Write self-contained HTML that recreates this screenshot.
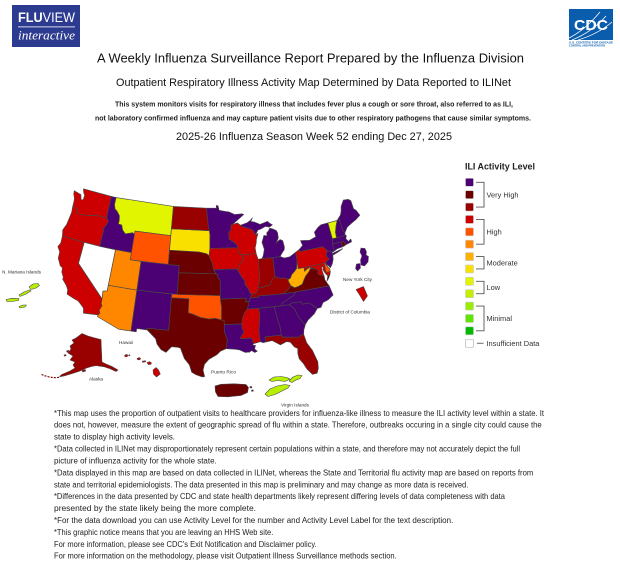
<!DOCTYPE html>
<html><head><meta charset="utf-8"><title>ILI Activity Map</title>
<style>
html,body{margin:0;padding:0;background:#fff;width:620px;height:565px;overflow:hidden;}
svg{display:block;font-family:"Liberation Sans",Arial,sans-serif;}
</style></head><body>
<svg id="s" width="620" height="565" viewBox="0 0 620 565" xmlns="http://www.w3.org/2000/svg">
<rect width="620" height="565" fill="#fff"/>

<!-- FLUVIEW logo -->
<rect x="12" y="5" width="68" height="42" fill="#2c3b8f"/>
<text x="18" y="22" font-size="14" fill="#fff" textLength="57" lengthAdjust="spacingAndGlyphs"><tspan font-weight="bold">FLU</tspan>VIEW</text>
<rect x="18" y="26.5" width="57" height="0.8" fill="#fff"/>
<text x="18" y="39.5" font-size="12.5" font-style="italic" fill="#fff" font-family="Liberation Serif, serif" textLength="57" lengthAdjust="spacingAndGlyphs">interactive</text>

<!-- CDC logo -->
<rect x="569" y="9" width="44" height="31" fill="#0a5cad"/>
<path d="M569 38 Q585 30 600 12" stroke="#fff" stroke-width="0.8" fill="none"/>
<path d="M572 40 Q592 32 606 16" stroke="#fff" stroke-width="0.8" fill="none"/>
<path d="M578 40 Q598 34 612 22" stroke="#fff" stroke-width="0.8" fill="none"/>
<text x="591" y="30" font-size="15" font-weight="bold" fill="#fff" text-anchor="middle" textLength="34" lengthAdjust="spacingAndGlyphs">CDC</text>
<text x="569" y="43.5" font-size="2.6" font-weight="bold" fill="#0a5cad" textLength="44" lengthAdjust="spacingAndGlyphs">U.S. CENTERS FOR DISEASE</text>
<text x="569" y="46.5" font-size="2.6" font-weight="bold" fill="#0a5cad" textLength="36" lengthAdjust="spacingAndGlyphs">CONTROL AND PREVENTION</text>

<!-- Header text -->
<text x="97" y="62.5" font-size="13" fill="#111" textLength="427" lengthAdjust="spacingAndGlyphs">A Weekly Influenza Surveillance Report Prepared by the Influenza Division</text>
<text x="116" y="85.8" font-size="10.7" fill="#111" textLength="395" lengthAdjust="spacingAndGlyphs">Outpatient Respiratory Illness Activity Map Determined by Data Reported to ILINet</text>
<text x="115" y="106.5" font-size="7" font-weight="bold" fill="#222" textLength="398" lengthAdjust="spacingAndGlyphs">This system monitors visits for respiratory illness that includes fever plus a cough or sore throat, also referred to as ILI,</text>
<text x="95" y="120.5" font-size="7" font-weight="bold" fill="#222" textLength="436" lengthAdjust="spacingAndGlyphs">not laboratory confirmed influenza and may capture patient visits due to other respiratory pathogens that cause similar symptoms.</text>
<text x="176" y="139.8" font-size="10.9" fill="#111" textLength="276" lengthAdjust="spacingAndGlyphs">2025-26 Influenza Season Week 52 ending Dec 27, 2025</text>

<!-- Main map (filled by script) -->
<g id="map" stroke="#474747" stroke-width="0.65" stroke-linejoin="round"></g>

<!-- Insets -->
<g stroke="#474747" stroke-width="0.55" stroke-linejoin="round">
  <!-- Alaska -->
  <path fill="#990000" d="M76 338 L82 333.5 L88 336 L95 338 L101 339.5 L102 362 L106 364 L112 366.5 L118 370 L116 371.5 L110 368.8 L104 366.7 L100 366.2 L96 365.6 L91 366.6 L86 368.2 L80 371 L72 373.6 L64 376 L59.5 376.8 L61.5 374.6 L70 371 L75 368 L73 365 L75 362 L70 360 L73 356 L68 353 L71 349 L70 346 L74 343 L72 340 Z"/>
  <path fill="none" stroke="#7a0000" stroke-width="1.1" stroke-dasharray="2 1.2" d="M41.5 374.5 L45 375.8 L48.5 376.8 L52 377.4 L55.5 377.7 L59 377.3"/>
  <path fill="#990000" d="M66.5 351 l2 -0.8 l0.6 1.5 l-2 0.6 Z M64 355 l1.8 -0.5 l0.3 1.2 l-1.8 0.4 Z M82 370.5 l3 -1 l0.8 1.5 l-3 1 Z"/>
  <!-- Hawaii -->
  <g fill="#cc0000">
    <path d="M124.5 355.5 l1.8 -1.2 l1.6 0.8 l-0.8 1.6 l-2 0.2 Z"/>
    <path d="M128.5 355.2 l1 -0.6 l0.6 0.9 l-1 0.5 Z"/>
    <path d="M137 358.5 l2 -1 l1.8 1 l-1.2 1.4 l-2 -0.2 Z"/>
    <path d="M142.3 361.2 l3.2 -0.5 l0.2 1.1 l-3.2 0.6 Z"/>
    <path d="M147 362.6 l2.5 -1 l2 1.2 l-0.6 1.6 l-2.6 0.2 Z"/>
    <path d="M153 370 L156 367.5 L158.5 370 L160.3 374 L156.5 377 L153.5 374.2 Z"/>
  </g>
  <!-- Puerto Rico -->
  <path fill="#6b0000" d="M215 386 L221 384.3 L234 383.8 L246 384.5 L248.5 387.5 L247.5 392.5 L241 395.5 L228 396.8 L218 396.5 L215.5 392 Z"/>
  <path fill="#6b0000" d="M250 386.5 l1.8 0 l0 1.3 l-1.8 0 Z M251.5 390 l1.8 0 l0 1.2 l-1.8 0 Z"/>
  <!-- Virgin Islands -->
  <g fill="#b6f000">
    <path d="M269 380 L274 377 L281 376.5 L287 377.5 L290 379 L285 381.5 L278 380.5 L272 381.5 Z"/>
    <path d="M289 381 L293 377 L298 375 L302 375.5 L300 378.5 L296 380 L292 382.5 Z"/>
    <path d="M265 394 L270 389 L277 386 L285 384.5 L290 385.5 L288 388 L282 391 L275 394.5 L268 396.5 Z"/>
  </g>
  <!-- N. Mariana Islands -->
  <g fill="#b6f000">
    <path d="M29 287 L33 284 L38 283.5 L39.5 285.5 L36 288 L31 289.5 Z"/>
    <path d="M19 295 L24 292 L30 289.8 L31 291 L26 294 L20 296.5 Z"/>
    <path d="M6 299.5 L12 298.3 L19 298.5 L18.5 300.5 L12 301.5 L7 301.5 Z"/>
    <path d="M19 306.5 L23 305 L26.5 305 L25 307 L20 308 Z"/>
  </g>
  <!-- New York City -->
  <path fill="#4b0073" d="M361 248 L365 248.5 L366.5 252 L366 255 L368.5 256.5 L368 262 L364.5 266 L361 265 L360.5 260 L362 256 L360 252 Z"/>
  <path fill="#4b0073" d="M356.5 264 L360 263.5 L360.5 268 L357.5 271 L355.5 268.5 Z"/>
  <!-- District of Columbia -->
  <path fill="#cc0000" d="M356 289.5 L363.5 286.5 L367.5 296 L363.5 301.5 L359 294 Z"/>
</g>

<!-- Map labels -->
<g font-size="4.8" fill="#333">
  <text x="2" y="273.7" textLength="39" lengthAdjust="spacingAndGlyphs">N. Mariana Islands</text>
  <text x="343" y="281.2" textLength="29" lengthAdjust="spacingAndGlyphs">New York City</text>
  <text x="330" y="313.4" textLength="40" lengthAdjust="spacingAndGlyphs">District of Columbia</text>
  <text x="119" y="344.2" textLength="14" lengthAdjust="spacingAndGlyphs">Hawaii</text>
  <text x="89" y="380.7" textLength="14" lengthAdjust="spacingAndGlyphs">Alaska</text>
  <text x="211" y="373.4" textLength="25" lengthAdjust="spacingAndGlyphs">Puerto Rico</text>
  <text x="281" y="406.7" textLength="28" lengthAdjust="spacingAndGlyphs">Virgin Islands</text>
</g>

<!-- Legend -->
<text x="465" y="169.5" font-size="9.5" font-weight="bold" fill="#222" textLength="70" lengthAdjust="spacingAndGlyphs">ILI Activity Level</text>
<g id="legend"></g>

<!-- Footer -->
<g font-size="8" fill="#222">
  <text x="54" y="415.8" textLength="490" lengthAdjust="spacingAndGlyphs">*This map uses the proportion of outpatient visits to healthcare providers for influenza-like illness to measure the ILI activity level within a state. It</text>
  <text x="54" y="427.7" textLength="487.7" lengthAdjust="spacingAndGlyphs">does not, however, measure the extent of geographic spread of flu within a state. Therefore, outbreaks occuring in a single city could cause the</text>
  <text x="54" y="439.6" textLength="121" lengthAdjust="spacingAndGlyphs">state to display high activity levels.</text>
  <text x="54" y="451.6" textLength="466" lengthAdjust="spacingAndGlyphs">*Data collected in ILINet may disproportionately represent certain populations within a state, and therefore may not accurately depict the full</text>
  <text x="54" y="463.5" textLength="162.7" lengthAdjust="spacingAndGlyphs">picture of influenza activity for the whole state.</text>
  <text x="54" y="475.4" textLength="479.3" lengthAdjust="spacingAndGlyphs">*Data displayed in this map are based on data collected in ILINet, whereas the State and Territorial flu activity map are based on reports from</text>
  <text x="54" y="487.3" textLength="414.3" lengthAdjust="spacingAndGlyphs">state and territorial epidemiologists. The data presented in this map is preliminary and may change as more data is received.</text>
  <text x="54" y="499.2" textLength="451" lengthAdjust="spacingAndGlyphs">*Differences in the data presented by CDC and state health departments likely represent differing levels of data completeness with data</text>
  <text x="54" y="511.1" textLength="202" lengthAdjust="spacingAndGlyphs">presented by the state likely being the more complete.</text>
  <text x="54" y="523.0" textLength="399.3" lengthAdjust="spacingAndGlyphs">*For the data download you can use Activity Level for the number and Activity Level Label for the text description.</text>
  <text x="54" y="534.9" textLength="219.3" lengthAdjust="spacingAndGlyphs">*This graphic notice means that you are leaving an HHS Web site.</text>
  <text x="54" y="546.8" textLength="262.7" lengthAdjust="spacingAndGlyphs">For more information, please see CDC's Exit Notification and Disclaimer policy.</text>
  <text x="54" y="558.7" textLength="342.7" lengthAdjust="spacingAndGlyphs">For more information on the methodology, please visit Outpatient Illness Surveillance methods section.</text>
</g>
</svg>

<script>
(function(){
var NS="http://www.w3.org/2000/svg";
var D=Math.PI/180;
var p1=33*D,p2=45*D;
var n=Math.log(Math.cos(p1)/Math.cos(p2))/Math.log(Math.tan(Math.PI/4+p2/2)/Math.tan(Math.PI/4+p1/2));
var F=Math.cos(p1)*Math.pow(Math.tan(Math.PI/4+p1/2),n)/n;
var k=418,A=212.3,B=-231.3;
function pr(lon,lat){
  var rho=F/Math.pow(Math.tan(Math.PI/4+lat*D/2),n);
  var th=n*(lon+96)*D;
  return [A+k*rho*Math.sin(th),B+k*rho*Math.cos(th)];
}
var P='#4b0073',M2='#6b0000',M1='#990000',R='#cc0000',O1='#ff5300',O2='#ff8700',Y1='#ffae00',Y2='#fae000',L1='#e2f500',W='#ffffff';
var CR=[[-114.63,35.0],[-114.6,34.3],[-114.4,34.1],[-114.7,33.4],[-114.5,33.0],[-114.72,32.72]];
var CRr=CR.slice().reverse();
var S=[
[R,[[[-124.72,48.38],[-123.2,48.15],[-122.85,47.5],[-122.45,47.55],[-122.4,48.2],[-122.75,48.5],[-123.05,49.0],[-117.04,49.0],[-117.04,46.43],[-116.92,46.0],[-118.98,46.0],[-119.3,45.93],[-120.6,45.7],[-121.2,45.65],[-122.2,45.55],[-122.8,45.65],[-123.0,46.1],[-123.5,46.25],[-124.05,46.27],[-124.1,46.9],[-124.2,47.4],[-124.6,47.9]]]],
[R,[[[-124.05,46.27],[-123.5,46.25],[-123.0,46.1],[-122.8,45.65],[-122.2,45.55],[-121.2,45.65],[-120.6,45.7],[-119.3,45.93],[-118.98,46.0],[-116.92,46.0],[-116.5,45.6],[-116.75,45.1],[-117.2,44.3],[-116.9,44.2],[-117.03,43.8],[-117.03,42.0],[-120.0,42.0],[-124.21,42.0],[-124.5,42.8],[-124.1,43.7],[-124.0,44.6],[-123.9,45.5]]]],
[R,[[[-124.21,42.0],[-120.0,42.0],[-120.0,39.0]].concat(CR,[[-117.12,32.53],[-117.3,33.2],[-118.0,33.7],[-118.5,34.0],[-119.2,34.15],[-120.5,34.5],[-120.6,35.1],[-121.0,35.6],[-121.9,36.3],[-121.9,36.6],[-122.4,37.2],[-122.5,37.8],[-123.0,38.0],[-123.7,38.9],[-123.8,39.8],[-124.4,40.4],[-124.1,41.0]])]],
[W,[[[-120.0,42.0],[-117.03,42.0],[-114.04,42.0],[-114.04,36.2],[-114.75,36.05],[-114.63,35.0],[-120.0,39.0]]]],
[P,[[[-117.04,49.0],[-116.05,49.0],[-116.05,47.98],[-115.72,47.42],[-115.3,47.25],[-114.6,46.65],[-114.45,46.0],[-114.5,45.55],[-113.8,45.5],[-113.45,44.85],[-112.8,44.4],[-111.4,44.73],[-111.05,44.5],[-111.05,42.0],[-114.04,42.0],[-117.03,42.0],[-117.03,43.8],[-116.9,44.2],[-117.2,44.3],[-116.75,45.1],[-116.5,45.6],[-116.92,46.0],[-117.04,46.43]]]],
[L1,[[[-116.05,49],[-104.05,49],[-104.05,45.0],[-111.05,45.0],[-111.05,44.5],[-111.4,44.73],[-112.8,44.4],[-113.45,44.85],[-113.8,45.5],[-114.5,45.55],[-114.45,46.0],[-114.6,46.65],[-115.3,47.25],[-115.72,47.42],[-116.05,47.98]]]],
[O1,[[[-111.05,45],[-104.05,45],[-104.05,41],[-111.05,41]]]],
[O2,[[[-114.04,42],[-111.05,42],[-111.05,41],[-109.05,41],[-109.05,37],[-114.05,37]]]],
[P,[[[-109.05,41],[-102.05,41],[-102.05,37],[-109.05,37]]]],
[O2,[[[-114.05,37],[-109.05,37],[-109.05,31.33],[-111.07,31.33],[-114.81,32.49]].concat(CRr,[[-114.75,36.05],[-114.04,36.2]])]],
[P,[[[-109.05,37],[-103.0,37],[-103.0,36.5],[-103.05,32.0],[-106.62,32.0],[-106.5,31.78],[-108.2,31.78],[-108.2,31.33],[-109.05,31.33]]]],
[M2,[[[-103.0,36.5],[-100.0,36.5],[-100.0,34.56],[-99.2,34.4],[-98.0,34.0],[-96.5,33.8],[-95.5,33.9],[-94.48,33.64],[-94.04,33.55],[-94.04,33.0],[-94.04,32.0],[-93.85,31.5],[-93.6,31.0],[-93.7,30.3],[-93.84,29.7],[-94.7,29.4],[-95.3,28.9],[-96.5,28.3],[-97.2,27.6],[-97.4,26.8],[-97.15,25.95],[-97.5,25.9],[-98.5,26.2],[-99.1,26.5],[-99.5,27.5],[-100.3,28.3],[-101.0,29.7],[-101.4,29.77],[-102.4,29.8],[-102.7,29.5],[-103.2,28.98],[-104.0,29.3],[-104.7,30.0],[-105.0,30.7],[-106.5,31.78],[-106.62,32.0],[-103.05,32.0]]]],
[O1,[[[-103.0,37],[-94.62,37],[-94.62,36.5],[-94.43,35.4],[-94.48,33.64],[-95.5,33.9],[-96.5,33.8],[-98.0,34.0],[-99.2,34.4],[-100,34.56],[-100,36.5],[-103.0,36.5]]]],
[M2,[[[-102.05,40],[-95.3,40],[-94.95,39.9],[-95.1,39.6],[-94.6,39.1],[-94.62,37],[-102.05,37]]]],
[M2,[[[-104.05,43],[-98.5,43],[-97.0,42.75],[-96.6,42.5],[-96.4,42.1],[-96.0,41.5],[-95.85,40.9],[-95.77,40.58],[-95.3,40.0],[-102.05,40],[-102.05,41],[-104.05,41]]]],
[Y2,[[[-104.05,45.94],[-96.56,45.94],[-96.45,45.3],[-96.45,43.5],[-96.6,42.5],[-97.0,42.75],[-98.5,43],[-104.05,43]]]],
[M1,[[[-104.05,49],[-97.23,49],[-97.0,47.9],[-96.8,46.6],[-96.56,45.94],[-104.05,45.94]]]],
[P,[[[-97.23,49],[-95.15,49],[-95.15,49.38],[-94.8,49.3],[-94.6,48.7],[-93.5,48.55],[-92.6,48.45],[-91.4,48.05],[-90.0,48.1],[-89.6,48.0],[-92.0,46.7],[-92.3,46.65],[-92.3,46.0],[-92.8,45.6],[-92.7,45.0],[-92.8,44.75],[-92.0,44.4],[-91.2,43.8],[-91.22,43.5],[-96.45,43.5],[-96.45,45.3],[-96.56,45.94],[-96.8,46.6],[-97.0,47.9]]]],
[R,[[[-96.45,43.5],[-91.22,43.5],[-91.1,42.8],[-90.65,42.5],[-90.2,42.1],[-90.15,41.8],[-90.6,41.5],[-91.1,41.2],[-91.0,40.7],[-91.4,40.4],[-91.7,40.6],[-95.77,40.58],[-95.85,40.9],[-96.0,41.5],[-96.4,42.1],[-96.6,42.5]]]],
[P,[[[-95.77,40.58],[-91.7,40.6],[-91.4,40.4],[-90.7,39.4],[-90.2,38.9],[-90.3,38.5],[-89.6,37.6],[-89.5,37.2],[-89.15,37.0],[-89.5,36.5],[-89.7,36.0],[-90.37,36.0],[-90.15,36.5],[-94.62,36.5],[-94.62,37.0],[-94.6,39.1],[-95.1,39.6],[-94.95,39.9],[-95.3,40.0]]]],
[M2,[[[-94.62,36.5],[-90.15,36.5],[-90.37,36.0],[-89.7,36.0],[-90.1,35.0],[-90.6,34.5],[-91.0,33.8],[-91.15,33.0],[-94.04,33.0],[-94.04,33.55],[-94.48,33.64],[-94.43,35.4]]]],
[P,[[[-94.04,33.0],[-91.15,33.0],[-91.2,32.5],[-90.9,31.9],[-91.6,31.0],[-89.73,31.0],[-89.6,30.6],[-89.5,30.2],[-89.65,30.0],[-89.2,29.95],[-89.4,29.5],[-89.0,29.15],[-89.4,29.0],[-89.9,29.3],[-90.2,29.1],[-90.9,29.1],[-91.8,29.5],[-92.5,29.6],[-93.84,29.7],[-93.7,30.3],[-93.6,31.0],[-93.85,31.5],[-94.04,32.0]]]],
[R,[[[-90.1,35.0],[-88.2,35.0],[-88.1,34.0],[-88.47,31.9],[-88.4,30.4],[-89.5,30.2],[-89.6,30.6],[-89.73,31.0],[-91.6,31.0],[-90.9,31.9],[-91.2,32.5],[-91.15,33.0],[-91.0,33.8],[-90.6,34.5]]]],
[P,[[[-88.2,35.0],[-85.6,35.0],[-85.2,32.8],[-85.0,32.0],[-85.0,31.0],[-87.6,31.0],[-87.5,30.3],[-88.0,30.25],[-88.4,30.4],[-88.47,31.9],[-88.1,34.0]]]],
[P,[[[-85.6,35.0],[-83.1,35.0],[-82.3,34.4],[-81.9,33.3],[-81.1,32.1],[-80.9,32.0],[-81.3,31.3],[-81.45,30.7],[-82.04,30.57],[-82.2,30.4],[-84.86,30.7],[-85.0,31.0],[-85.0,32.0],[-85.2,32.8]]]],
[M1,[[[-87.6,31.0],[-85.0,31.0],[-84.86,30.7],[-82.2,30.4],[-82.04,30.57],[-81.45,30.7],[-81.2,29.5],[-80.5,28.3],[-80.0,26.7],[-80.1,25.8],[-80.4,25.2],[-81.1,25.15],[-81.8,26.0],[-82.2,26.8],[-82.7,27.5],[-82.8,28.2],[-82.7,28.9],[-83.2,29.2],[-83.7,29.9],[-84.3,30.05],[-85.3,29.7],[-86.5,30.4],[-87.5,30.3]]]],
[P,[[[-83.1,35.0],[-82.3,35.2],[-81.05,35.15],[-80.9,34.8],[-79.7,34.8],[-78.55,33.85],[-79.2,33.2],[-80.4,32.5],[-80.9,32.0],[-81.1,32.1],[-81.9,33.3],[-82.3,34.4]]]],
[P,[[[-84.32,35.0],[-83.1,35.0],[-82.3,35.2],[-81.05,35.15],[-80.9,34.8],[-79.7,34.8],[-78.55,33.85],[-77.9,33.9],[-77.4,34.5],[-76.5,34.7],[-75.5,35.2],[-75.8,36.55],[-81.65,36.6],[-82.0,36.2],[-82.6,36.0],[-83.7,35.55],[-84.3,35.25]]]],
[P,[[[-90.1,35.0],[-88.2,35.0],[-85.6,35.0],[-84.32,35.0],[-84.3,35.25],[-83.7,35.55],[-82.6,36.0],[-82.0,36.2],[-81.65,36.6],[-83.7,36.6],[-88.07,36.68],[-88.05,36.5],[-89.5,36.5],[-89.7,36.0]]]],
[M1,[[[-89.5,36.5],[-88.05,36.5],[-88.07,36.68],[-83.7,36.6],[-83.0,37.0],[-82.3,37.55],[-82.6,38.2],[-82.6,38.45],[-83.0,38.7],[-84.0,38.8],[-84.82,39.1],[-85.4,38.7],[-85.9,38.0],[-86.5,38.0],[-87.1,37.8],[-87.9,37.9],[-88.1,37.5],[-88.5,37.1],[-89.15,37.0]]]],
[M2,[[[-83.7,36.6],[-81.65,36.6],[-75.8,36.55],[-76.0,36.9],[-76.3,37.5],[-76.3,38.05],[-77.0,38.3],[-77.3,38.6],[-77.05,38.9],[-77.5,39.2],[-77.72,39.32],[-78.35,39.45],[-78.8,39.0],[-79.5,38.5],[-80.0,37.9],[-80.3,37.5],[-81.0,37.3],[-81.7,37.2],[-82.3,37.55],[-83.0,37.0]],[[-75.24,38.03],[-75.65,37.95],[-76.0,37.25],[-75.6,37.6]]]],
[Y1,[[[-82.6,38.45],[-82.6,38.2],[-82.3,37.55],[-81.7,37.2],[-81.0,37.3],[-80.3,37.5],[-80.0,37.9],[-79.5,38.5],[-78.8,39.0],[-78.35,39.45],[-77.72,39.32],[-78.4,39.6],[-79.0,39.45],[-79.48,39.2],[-79.48,39.72],[-80.52,39.72],[-80.52,40.64],[-80.6,40.6],[-80.8,39.8],[-81.3,39.4],[-81.8,39.1],[-82.2,38.6]]]],
[R,[[[-79.48,39.72],[-75.79,39.72],[-75.79,38.46],[-75.05,38.45],[-75.24,38.03],[-75.65,37.95],[-75.95,38.3],[-76.25,38.9],[-76.1,39.4],[-76.4,39.3],[-76.45,38.9],[-76.35,38.3],[-76.3,38.05],[-77.0,38.3],[-77.3,38.6],[-77.05,38.9],[-77.5,39.2],[-77.72,39.32],[-78.4,39.6],[-79.0,39.45],[-79.48,39.2]]]],
[O1,[[[-75.79,39.72],[-75.4,39.83],[-75.55,39.6],[-75.4,39.3],[-75.05,38.8],[-75.05,38.45],[-75.79,38.46]]]],
[P,[[[-75.55,39.6],[-75.4,39.83],[-75.1,40.0],[-74.7,40.2],[-75.0,40.4],[-75.1,40.8],[-74.7,41.35],[-73.9,41.0],[-74.0,40.7],[-73.95,40.5],[-74.05,40.0],[-74.4,39.4],[-74.9,38.93],[-75.05,39.2]]]],
[R,[[[-80.52,39.72],[-79.48,39.72],[-75.79,39.72],[-75.4,39.83],[-75.1,40.0],[-74.7,40.2],[-75.0,40.4],[-75.1,40.8],[-74.7,41.35],[-75.35,42.0],[-79.76,42.0],[-79.76,42.27],[-80.52,41.98]]]],
[P,[[[-79.76,42.0],[-75.35,42.0],[-74.7,41.35],[-73.9,41.0],[-73.65,41.0],[-73.5,41.2],[-73.5,42.05],[-73.26,42.75],[-73.35,45.01],[-74.7,45.0],[-75.3,44.8],[-76.3,44.2],[-76.2,43.55],[-77.5,43.25],[-79.2,43.45],[-79.05,42.9],[-78.9,42.8],[-79.76,42.27]],[[-74.0,40.6],[-73.9,40.8],[-72.5,41.0],[-71.9,41.07],[-72.8,40.8],[-73.9,40.55]]]],
[L1,[[[-73.35,45.01],[-71.5,45.01],[-72.0,44.3],[-72.4,43.5],[-72.46,42.73],[-73.26,42.75]]]],
[P,[[[-71.5,45.01],[-71.08,45.3],[-71.0,44.5],[-70.98,43.5],[-70.7,43.1],[-70.8,42.87],[-71.3,42.7],[-72.46,42.73],[-72.4,43.5],[-72.0,44.3]]]],
[P,[[[-71.08,45.3],[-70.6,45.6],[-70.25,46.1],[-70.0,46.7],[-69.2,47.45],[-68.2,47.35],[-67.8,47.07],[-67.78,45.9],[-67.4,45.6],[-67.0,44.8],[-68.0,44.4],[-69.0,44.1],[-70.0,43.75],[-70.7,43.1],[-70.98,43.5],[-71.0,44.5]]]],
[P,[[[-73.5,42.05],[-71.8,42.02],[-71.38,42.02],[-71.3,41.77],[-71.1,41.5],[-70.65,41.55],[-70.0,41.65],[-69.95,41.9],[-70.05,42.05],[-70.5,41.8],[-70.65,42.0],[-70.85,42.3],[-70.6,42.65],[-70.8,42.87],[-71.3,42.7],[-72.46,42.73],[-73.26,42.75]]]],
[P,[[[-73.5,42.05],[-71.8,42.02],[-71.85,41.32],[-72.9,41.25],[-73.65,41.0],[-73.5,41.2]]]],
[M2,[[[-71.8,42.02],[-71.38,42.02],[-71.3,41.77],[-71.1,41.5],[-71.45,41.38],[-71.85,41.32]]]],
[P,[[[-86.8,41.76],[-84.8,41.7],[-83.45,41.73],[-83.1,42.1],[-82.5,42.6],[-82.4,43.0],[-82.55,43.85],[-83.0,44.05],[-83.4,43.9],[-83.9,43.6],[-83.3,44.3],[-83.3,45.0],[-83.5,45.35],[-84.2,45.65],[-84.7,45.78],[-85.0,45.45],[-85.4,45.2],[-85.4,44.8],[-86.0,44.9],[-86.2,44.5],[-86.5,44.0],[-86.2,43.0],[-86.5,42.2]],[[-90.4,46.55],[-89.0,46.85],[-88.4,47.1],[-87.9,47.45],[-88.3,46.95],[-87.6,46.85],[-86.5,46.45],[-85.0,46.75],[-84.6,46.45],[-84.1,46.2],[-84.7,45.95],[-85.5,46.1],[-86.5,45.8],[-87.0,45.75],[-87.6,45.1],[-87.8,45.4],[-88.1,45.8],[-89.0,46.1],[-90.1,46.34]]]],
[R,[[[-92.3,46.65],[-92.0,46.7],[-91.0,46.9],[-90.4,46.55],[-90.1,46.34],[-89.0,46.1],[-88.1,45.8],[-87.8,45.4],[-87.6,45.1],[-87.1,45.25],[-87.5,44.5],[-87.6,44.0],[-87.9,43.3],[-87.8,42.5],[-90.65,42.5],[-91.1,42.8],[-91.22,43.5],[-91.2,43.8],[-92.0,44.4],[-92.8,44.75],[-92.7,45.0],[-92.8,45.6],[-92.3,46.0]]]],
[R,[[[-90.65,42.5],[-87.8,42.5],[-87.53,41.7],[-87.53,39.35],[-87.6,38.7],[-88.0,38.0],[-87.9,37.9],[-88.1,37.5],[-88.5,37.1],[-89.15,37.0],[-89.5,37.2],[-89.6,37.6],[-90.3,38.5],[-90.2,38.9],[-90.7,39.4],[-91.4,40.4],[-91.0,40.7],[-91.1,41.2],[-90.6,41.5],[-90.15,41.8],[-90.2,42.1]]]],
[M1,[[[-87.53,41.7],[-86.8,41.76],[-84.8,41.7],[-84.82,39.1],[-85.4,38.7],[-85.9,38.0],[-86.5,38.0],[-87.1,37.8],[-87.9,37.9],[-88.0,38.0],[-87.6,38.7],[-87.53,39.35]]]],
[P,[[[-84.8,41.7],[-83.45,41.73],[-82.7,41.45],[-81.7,41.5],[-80.52,41.98],[-80.52,40.64],[-80.6,40.6],[-80.8,39.8],[-81.3,39.4],[-81.8,39.1],[-82.2,38.6],[-82.6,38.45],[-83.0,38.7],[-84.0,38.8],[-84.82,39.1]]]]
];
var g=document.getElementById('map');
S.forEach(function(st){
  var d='';
  st[1].forEach(function(poly){
    d+='M'+poly.map(function(p){var q=pr(p[0],p[1]);return q[0].toFixed(2)+','+q[1].toFixed(2);}).join('L')+'Z';
  });
  var e=document.createElementNS(NS,'path');
  e.setAttribute('d',d);e.setAttribute('fill',st[0]);
  g.appendChild(e);
});
// Legend
var cols=['#4b0073','#6b0000','#990000','#cc0000','#ff5300','#ff8700','#ffb000','#fae000','#e2f500','#c4f000','#99ee00','#5ce600','#00bb00','#ffffff'];
var L=document.getElementById('legend');
function el(t,a,txt){var e=document.createElementNS(NS,t);for(var kk in a)e.setAttribute(kk,a[kk]);if(txt)e.textContent=txt;L.appendChild(e);return e;}
var cy=[];for(var i=0;i<14;i++)cy.push(182.3+12.38*i);
cols.forEach(function(c,i){
  el('rect',{x:465.5,y:(cy[i]-4).toFixed(2),width:8,height:8,rx:1,fill:c,stroke:(i==13?'#aaa':'#c8c8c8'),'stroke-width':0.6});
});
var groups=[[0,2,'Very High'],[3,5,'High'],[6,7,'Moderate'],[8,9,'Low'],[10,12,'Minimal']];
groups.forEach(function(gr){
  var a=cy[gr[0]],b=cy[gr[1]];
  el('path',{d:'M476 '+a.toFixed(2)+'H484V'+b.toFixed(2)+'H476',fill:'none',stroke:'#555','stroke-width':0.9});
  el('text',{x:486.5,y:((a+b)/2+2.6).toFixed(2),'font-size':7.4,fill:'#333'},gr[2]);
});
el('path',{d:'M477 '+cy[13].toFixed(2)+'H483.5',stroke:'#555','stroke-width':0.9});
el('text',{x:486.5,y:(cy[13]+2.6).toFixed(2),'font-size':7.4,fill:'#333'},'Insufficient Data');
})();
</script>
</body></html>
